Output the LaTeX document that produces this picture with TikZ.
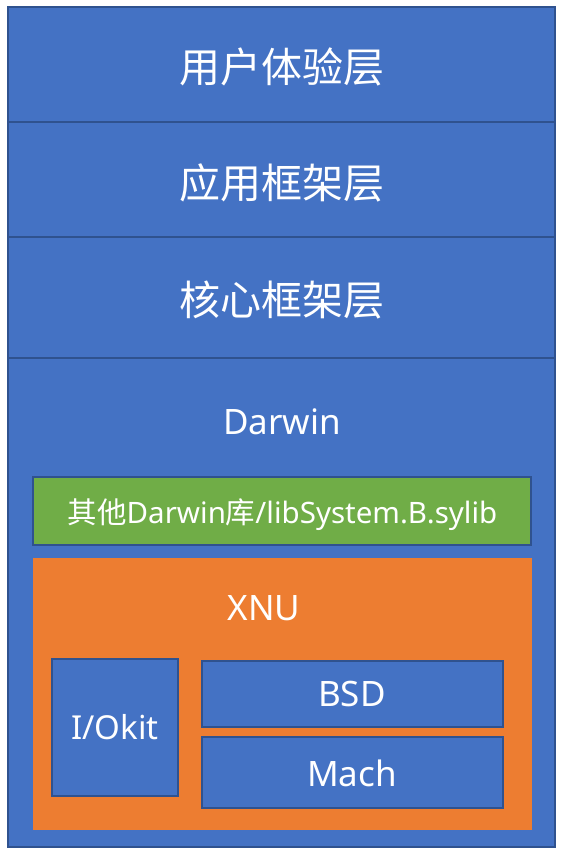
\documentclass[tikz,border=0pt]{standalone}
\usepackage{fontspec}
\setmainfont{Noto Sans}
\newfontfamily\cjk{Noto Sans CJK SC}
\definecolor{ofblue}{HTML}{4472C4}
\definecolor{ofedge}{HTML}{2F528F}
\definecolor{ofgreen}{HTML}{70AD47}
\definecolor{oforange}{HTML}{ED7D31}
\begin{document}
\begin{tikzpicture}[x=1pt,y=-1pt,
  blk/.style={draw=ofedge, line width=1.6pt, anchor=north west, inner sep=0pt, outer sep=0pt},
  bluebox/.style={blk, fill=ofblue},
  greenbox/.style={blk, fill=ofgreen},
  orangebox/.style={blk, fill=oforange, draw=none},
  lbl/.style={text=white, inner sep=0pt, anchor=center},
  big/.style={lbl, font=\cjk\fontsize{41}{48}\selectfont},
  mid/.style={lbl, font=\fontsize{35}{42}\selectfont},
  small/.style={lbl, font=\fontsize{29.5}{35}\selectfont}]
\useasboundingbox (0,0) rectangle (566,856);
\fill[white] (0,0) rectangle (566,856);
% layers
\node[bluebox, minimum width=547pt, minimum height=115pt] (l1) at (8,7) {};
\node[bluebox, minimum width=547pt, minimum height=115pt] (l2) at (8,122) {};
\node[bluebox, minimum width=547pt, minimum height=121pt] (l3) at (8,237) {};
\node[bluebox, minimum width=547pt, minimum height=489pt] (dw) at (8,358) {};
\node[big] (t1) at (281.5,67) {用户体验层};
\node[big] (t2) at (281.5,183) {应用框架层};
\node[big] (t3) at (281.5,300) {核心框架层};
\node[mid] (t4) at (282,422) {Darwin};
% green
\node[greenbox, minimum width=498pt, minimum height=68pt] (gr) at (33,477) {};
\node[small] (gt) at (282.5,515) {{\cjk 其他}Darwin{\cjk 库}/libSystem.B.sylib};
% orange
\node[orangebox, minimum width=499pt, minimum height=272pt] (xnu) at (33,558) {};
\node[mid] (xt) at (264,608) {XNU};
\node[bluebox, minimum width=126pt, minimum height=137pt] (io) at (52,659) {};
\node[mid, font=\fontsize{33}{40}\selectfont] (iot) at (115,727) {I/Okit};
\node[bluebox, minimum width=301pt, minimum height=66pt] (bsd) at (202,661) {};
\node[mid] (bsdt) at (352,694) {BSD};
\node[bluebox, minimum width=301pt, minimum height=71pt] (mach) at (202,737) {};
\node[mid] (macht) at (352,773) {Mach};
\end{tikzpicture}
\end{document}
